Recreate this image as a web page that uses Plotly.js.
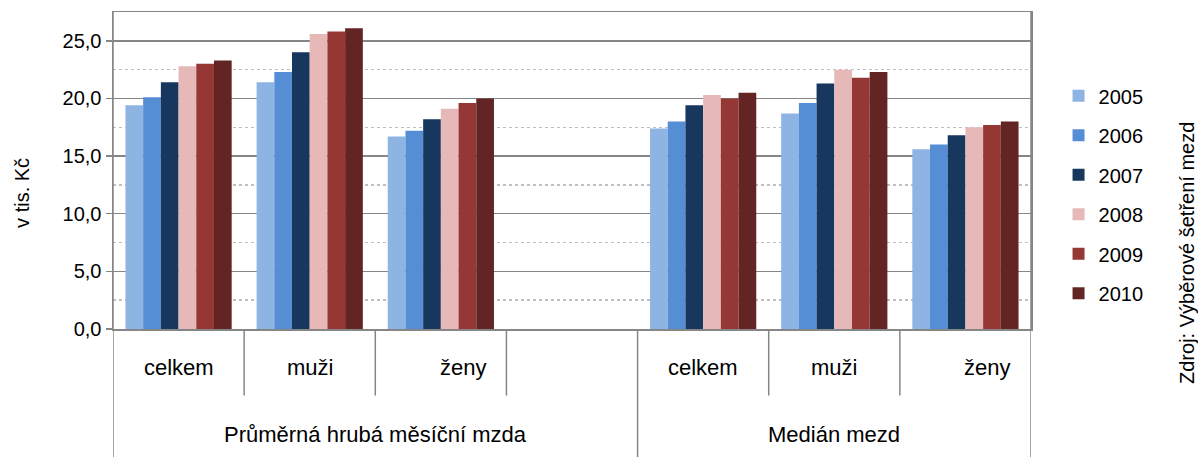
<!DOCTYPE html>
<html>
<head>
<meta charset="utf-8">
<script src="https://cdn.plot.ly/plotly-3.0.1.min.js"></script>
<style>html,body{margin:0;padding:0;background:#fff;}#chart{width:1198px;height:457px;}</style>
</head>
<body>
<div id="chart"></div>
<script>
// ---- data ----
const categories = ['celkem', 'muži', 'ženy', '', 'celkem', 'muži', 'ženy'];
const groupLabels = ['Průměrná hrubá měsíční mzda', 'Medián mezd'];
const groupSpans = [[0, 3], [4, 6]];
const years = ['2005', '2006', '2007', '2008', '2009', '2010'];
const v2005 = [19.4, 21.4, 16.7, null, 17.4, 18.7, 15.6];
const v2006 = [20.1, 22.3, 17.2, null, 18.0, 19.6, 16.0];
const v2007 = [21.4, 24.0, 18.2, null, 19.4, 21.3, 16.8];
const v2008 = [22.8, 25.6, 19.1, null, 20.3, 22.5, 17.5];
const v2009 = [23.0, 25.8, 19.6, null, 20.0, 21.8, 17.7];
const v2010 = [23.3, 26.1, 20.0, null, 20.5, 22.3, 18.0];
const yTitle = 'v tis. Kč';
const source = 'Zdroj: Výběrové šetření mezd';

// ---- style ----
const colors = ['#8EB4E3', '#558ED5', '#17375E', '#E6B9B8', '#953735', '#632523'];
const series = [v2005, v2006, v2007, v2008, v2009, v2010];
const axisGray = '#868686';
const FONT = 'Liberation Sans, Arial, sans-serif';
const xIdx = categories.map((_, i) => i);

const traces = series.map((vals, k) => ({
  type: 'bar',
  name: years[k],
  x: xIdx,
  y: vals,
  marker: {color: colors[k], line: {width: 0}},
  legendgroup: 'g' + k,
  hoverinfo: 'x+y+name'
}));

const shapes = [];
const lineStyle = {color: axisGray, width: 1.5};
// dividers between categories (first level)
for (let i = 0; i < categories.length - 1; i++) {
  const b = i + 0.5;
  const isGroupBoundary = groupSpans.some(s => s[1] + 0.5 === b);
  shapes.push({type: 'line', xref: 'x', yref: 'paper', x0: b, x1: b,
    y0: 0, y1: isGroupBoundary ? -0.41 : -0.21, line: lineStyle});
}
// outer edges extending through both label rows
shapes.push({type: 'line', xref: 'x', yref: 'paper', x0: -0.5, x1: -0.5, y0: 1, y1: -0.41, line: lineStyle});
shapes.push({type: 'line', xref: 'x', yref: 'paper', x0: categories.length - 0.5, x1: categories.length - 0.5, y0: 1, y1: -0.41, line: lineStyle});

const annotations = [];
categories.forEach((c, i) => {
  if (!c) return;
  annotations.push({xref: 'x', yref: 'paper', x: i, y: -0.123, text: c, showarrow: false,
    xanchor: 'center', yanchor: 'middle', xshift: c === 'ženy' ? 22 : 0,
    font: {family: FONT, size: 22, color: '#000'}});
});
groupLabels.forEach((g, j) => {
  annotations.push({xref: 'x', yref: 'paper', x: (groupSpans[j][0] + groupSpans[j][1]) / 2, y: -0.334,
    text: g, showarrow: false, xanchor: 'center', yanchor: 'middle',
    font: {family: FONT, size: 22, color: '#000'}});
});
annotations.push({xref: 'paper', yref: 'paper', x: -0.1, xanchor: 'center', y: 0.43, yanchor: 'middle',
  text: yTitle, textangle: -90, showarrow: false, font: {family: FONT, size: 20, color: '#000'}});
annotations.push({xref: 'paper', yref: 'paper', x: 1.17, xanchor: 'center', y: 0.24, yanchor: 'middle',
  text: source, textangle: -90, showarrow: false, font: {family: FONT, size: 20, color: '#000'}});

const layout = {
  width: 1198, height: 457,
  margin: {l: 113, r: 167, t: 12, b: 128, pad: 0},
  paper_bgcolor: '#fff', plot_bgcolor: '#fff',
  separators: ', ',
  barmode: 'group', bargap: 0.19, bargroupgap: 0,
  font: {family: FONT, size: 20, color: '#000'},
  showlegend: true,
  legend: {x: 1.03, xanchor: 'left', y: 0.797, yanchor: 'top', traceorder: 'grouped',
    tracegroupgap: 10.5, font: {family: FONT, size: 20, color: '#000'}, bgcolor: 'rgba(0,0,0,0)'},
  xaxis: {range: [-0.5, categories.length - 0.5], showticklabels: false, ticks: '', showgrid: false,
    zeroline: false, showline: true, linecolor: axisGray, linewidth: 1.5, mirror: true, fixedrange: true},
  yaxis: {range: [0, 27.5], tick0: 0, dtick: 5, tickformat: '.1f', ticks: 'outside', ticklen: 6,
    tickcolor: axisGray, tickwidth: 1.5, showline: true, linecolor: axisGray, linewidth: 1.5, mirror: true,
    showgrid: true, gridcolor: axisGray, gridwidth: 1.5, zeroline: false,
    minor: {dtick: 2.5, tick0: 0, showgrid: true, gridcolor: '#BFBFBF', griddash: 'dot', gridwidth: 1.5, ticks: ''},
    tickfont: {family: FONT, size: 20, color: '#000'}, fixedrange: true},
  shapes: shapes,
  annotations: annotations
};

Plotly.newPlot('chart', traces, layout, {displayModeBar: false, staticPlot: true});
</script>
</body>
</html>
